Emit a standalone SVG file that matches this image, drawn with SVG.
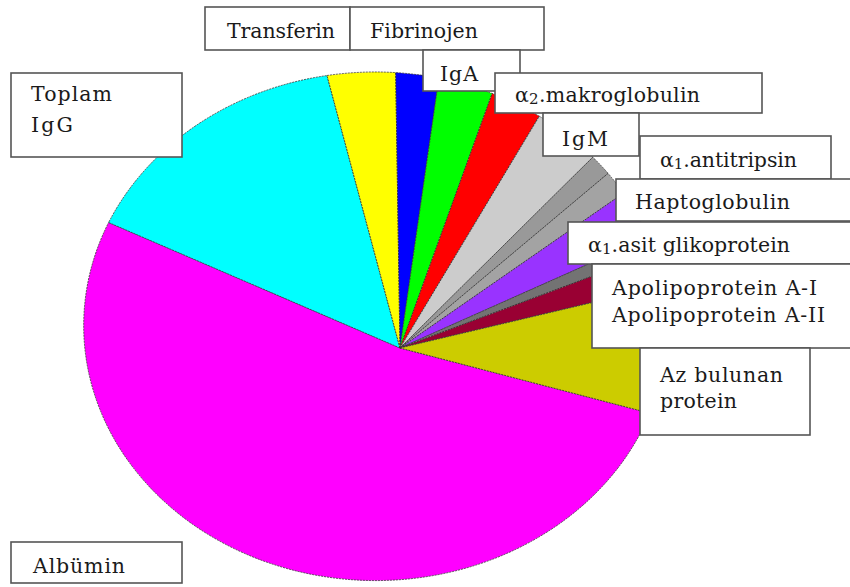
<svg xmlns="http://www.w3.org/2000/svg" width="850" height="587" viewBox="0 0 850 587">
<style>
.sl{stroke:#333;stroke-width:0.8;stroke-dasharray:2 1}
.box{fill:#fff;stroke:#555;stroke-width:1.6}
.t{font-family:"DejaVu Serif","Liberation Serif",serif;font-size:20.5px;fill:#1a1a1a}
.sub{font-size:15px}
</style>
<rect width="850" height="587" fill="#fff"/>
<g id="pie">
<path id="s-albumin" class="sl" fill="#FF00FF" d="M400,348 L649.9,413.2 A292,255 0 1 1 108.6,222.5 Z"/>
<path id="s-igg" class="sl" fill="#00FFFF" d="M400,348 L108.6,222.5 A292,255 0 0 1 327,75.5 Z"/>
<path id="s-transferin" class="sl" fill="#FFFF00" d="M400,348 L327,75.5 A292,255 0 0 1 395.7,72.6 Z"/>
<path id="s-fibrinojen" class="sl" fill="#0000FF" d="M400,348 L395.7,72.6 A292,255 0 0 1 438.9,78.2 Z"/>
<path id="s-iga" class="sl" fill="#00FF00" d="M400,348 L438.9,78.2 A292,255 0 0 1 492.2,93.5 Z"/>
<path id="s-a2m" class="sl" fill="#FF0000" d="M400,348 L492.2,93.5 A292,255 0 0 1 539.3,116.2 Z"/>
<path id="s-igm" class="sl" fill="#CCCCCC" d="M400,348 L539.3,116.2 A292,255 0 0 1 592.8,157.2 Z"/>
<path id="s-a1at" class="sl" fill="#999999" d="M400,348 L592.8,157.2 A292,255 0 0 1 608.1,173.4 Z"/>
<path id="s-hapto" class="sl" fill="#A3A3A3" d="M400,348 L608.1,173.4 A292,255 0 0 1 623.5,193.2 Z"/>
<path id="s-agp" class="sl" fill="#9933FF" d="M400,348 L623.5,193.2 A292,255 0 0 1 648.4,237.4 Z"/>
<path id="s-apoa1" class="sl" fill="#737373" d="M400,348 L648.4,237.4 A292,255 0 0 1 654.4,252.9 Z"/>
<path id="s-apoa2" class="sl" fill="#990033" d="M400,348 L654.4,252.9 A292,255 0 0 1 663.2,285.8 Z"/>
<path id="s-az" class="sl" fill="#CCCC00" d="M400,348 L663.2,285.8 A292,255 0 0 1 649.9,413.2 Z"/>
</g>
<g id="n-toplam"><rect class="box" x="11" y="73" width="171" height="84"/><text class="t" x="31" y="101" textLength="81">Toplam</text><text class="t" x="31" y="132" textLength="42">IgG</text></g>
<g id="n-albumin"><rect class="box" x="11" y="542" width="171" height="41"/><text class="t" x="33" y="573" textLength="92">Albümin</text></g>
<g id="n-transferin"><rect class="box" x="205" y="7" width="145" height="43"/><text class="t" x="227" y="38" textLength="108">Transferin</text></g>
<g id="n-fibrinojen"><rect class="box" x="350" y="7" width="194" height="43"/><text class="t" x="370" y="38" textLength="108">Fibrinojen</text></g>
<g id="n-iga"><rect class="box" x="423" y="50" width="97" height="41"/><text class="t" x="440" y="81" textLength="38">IgA</text></g>
<g id="n-a2m"><rect class="box" x="495" y="73" width="267" height="40"/><text class="t" x="515" y="102" textLength="185">α<tspan class="sub" dy="2">2</tspan><tspan dy="-2">.makroglobulin</tspan></text></g>
<g id="n-igm"><rect class="box" x="543" y="113" width="96" height="43"/><text class="t" x="562" y="146" textLength="46">IgM</text></g>
<g id="n-a1at"><rect class="box" x="640" y="136" width="191" height="43"/><text class="t" x="660" y="167" textLength="137">α<tspan class="sub" dy="2">1</tspan><tspan dy="-2">.antitripsin</tspan></text></g>
<g id="n-hapto"><rect class="box" x="616" y="179" width="240" height="42"/><text class="t" x="635" y="209" textLength="155">Haptoglobulin</text></g>
<g id="n-agp"><rect class="box" x="568" y="222" width="290" height="42"/><text class="t" x="588" y="252" textLength="202">α<tspan class="sub" dy="2">1</tspan><tspan dy="-2">.asit glikoprotein</tspan></text></g>
<g id="n-apo"><rect class="box" x="592" y="264" width="266" height="84"/><text class="t" x="612" y="295" textLength="205">Apolipoprotein A-I</text><text class="t" x="612" y="322" textLength="213">Apolipoprotein A-II</text></g>
<g id="n-az"><rect class="box" x="640" y="348" width="170" height="87"/><text class="t" x="660" y="382" textLength="123">Az bulunan</text><text class="t" x="660" y="408" textLength="77">protein</text></g>
<g id="connectors"></g>
</svg>
